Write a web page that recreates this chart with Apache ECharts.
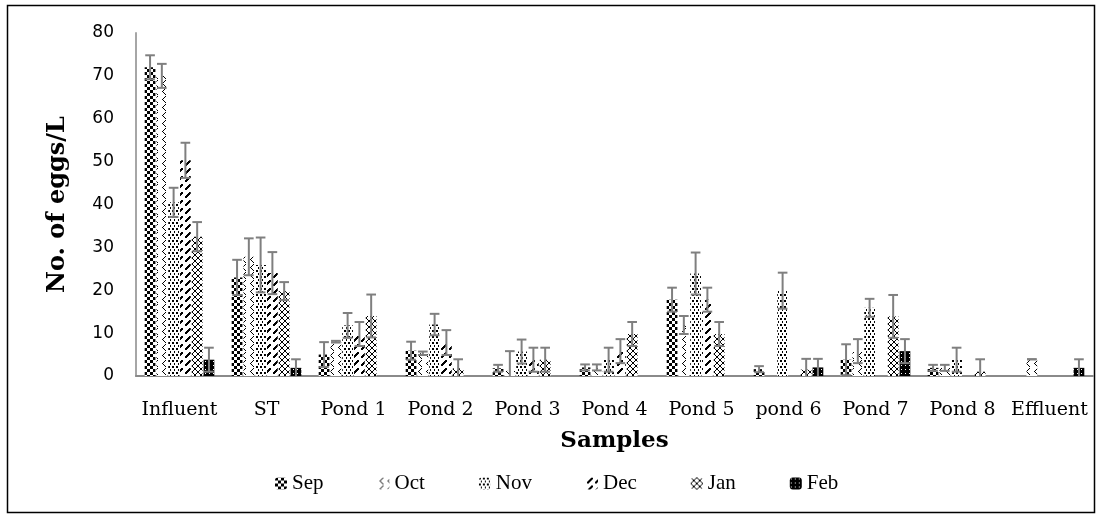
<!DOCTYPE html>
<html>
<head>
<meta charset="utf-8">
<script src="https://cdn.jsdelivr.net/npm/echarts@6/dist/echarts.min.js"></script>
<style>
  html, body { margin: 0; padding: 0; background: #fff; }
  #chart { width: 1101px; height: 519px; }
</style>
</head>
<body>
<div id="chart"></div>
<script>
// Helminth egg counts per sampling point and month (mean and standard deviation)
const categories = ['Influent', 'ST', 'Pond 1', 'Pond 2', 'Pond 3', 'Pond 4', 'Pond 5', 'pond 6', 'Pond 7', 'Pond 8', 'Effluent'];
const months = ['Sep', 'Oct', 'Nov', 'Dec', 'Jan', 'Feb'];
const yTicks = [0, 10, 20, 30, 40, 50, 60, 70, 80];

const sep    = [72.0, 23.0, 5.0, 5.9, 1.8, 2.0, 17.8, 1.6, 3.8, 1.9, 0];
const sepErr = [2.8, 4.1, 2.9, 2.1, 0.8, 0.7, 2.8, 0.7, 3.6, 0.7, 0];
const oct    = [70.0, 27.8, 8.0, 5.3, 1.2, 2.0, 11.9, 0, 5.8, 1.9, 3.9];
const octErr = [2.8, 4.3, 0.2, 0.4, 4.6, 0.7, 2.1, 0, 2.8, 0.7, 0];
const nov    = [40.5, 25.9, 11.8, 12.0, 5.7, 3.8, 23.9, 19.9, 15.9, 3.8, 0];
const novErr = [3.4, 6.4, 2.9, 2.5, 2.8, 2.8, 4.9, 4.2, 2.1, 2.8, 0];
const dec    = [50.3, 24.0, 9.8, 7.8, 3.8, 5.8, 17.8, 0, 0, 0, 0];
const decErr = [4.1, 4.9, 2.8, 2.9, 2.8, 2.8, 2.8, 0, 0, 0, 0];
const jan    = [32.5, 19.8, 14.0, 1.8, 3.8, 9.8, 9.8, 1.5, 13.9, 1.0, 0];
const janErr = [3.4, 2.1, 5.0, 2.1, 2.8, 2.8, 2.8, 2.5, 5.0, 2.9, 0];
const feb    = [3.8, 1.9, 0, 0, 0, 0, 0, 2.0, 5.8, 0, 1.9];
const febErr = [2.8, 2.0, 0, 0, 0, 0, 0, 2.0, 2.8, 0, 2.0];

const values = [sep, oct, nov, dec, jan, feb];
const errors = [sepErr, octErr, novErr, decErr, janErr, febErr];

// Monochrome fill patterns, one tile per month ('#' = black pixel)
function tile(rows) {
  const c = document.createElement('canvas');
  c.width = rows[0].length;
  c.height = rows.length;
  const ctx = c.getContext('2d');
  ctx.fillStyle = '#ffffff';
  ctx.fillRect(0, 0, c.width, c.height);
  ctx.fillStyle = '#000000';
  rows.forEach((r, y) => {
    for (let x = 0; x < r.length; x++) if (r[x] === '#') ctx.fillRect(x, y, 1, 1);
  });
  return { image: c, repeat: 'repeat' };
}

const patterns = [
  tile(['###...', '###...', '###...', '...###', '...###', '...###']),
  tile(['.....#..', '....#...', '...#....', '..#.....', '...#....', '....#...', '.....#..', '........']),
  tile(['##..', '##..', '....', '..#.', '..#.', '....']),
  tile(['.....##.', '....###.', '...###..', '..###...', '.###....', '.##.....', '........', '........']),
  tile(['#....#', '.#..#.', '..##..', '..##..', '.#..#.', '#....#']),
  tile(['####', '#.##', '####', '####'])
];

const CAT_GAP = 0.2, BAR_GAP = 0.1, N = months.length;

// Error bar for one bar of the group, placed with the same layout rules as the bars
function renderErr(params, api) {
  const ci = api.value(0), si = api.value(1), v = api.value(2), e = api.value(3);
  const band = api.size([1, 0])[0];
  const bw = band * (1 - CAT_GAP) / (N + (N - 1) * BAR_GAP);
  const center = api.coord([ci, 0])[0];
  const x = center - band * (1 - CAT_GAP) / 2 + bw / 2 + si * bw * (1 + BAR_GAP);
  const lo = Math.max(v - e, 0);
  const yTop = api.coord([ci, v + e])[1];
  const yBot = api.coord([ci, lo])[1];
  const half = bw * 0.45;
  const style = { stroke: '#7f7f7f', lineWidth: 2 };
  const children = [
    { type: 'line', shape: { x1: x, y1: yTop, x2: x, y2: yBot }, style },
    { type: 'line', shape: { x1: x - half, y1: yTop, x2: x + half, y2: yTop }, style }
  ];
  if (lo > 0) children.push({ type: 'line', shape: { x1: x - half, y1: yBot, x2: x + half, y2: yBot }, style });
  return { type: 'group', children };
}

const errData = [];
values.forEach((arr, si) => {
  arr.forEach((v, ci) => {
    if (v > 0 || errors[si][ci] > 0) errData.push([ci, si, v, errors[si][ci]]);
  });
});

const barSeries = months.map((m, i) => ({
  name: m,
  type: 'bar',
  data: values[i],
  barGap: (BAR_GAP * 100) + '%',
  barCategoryGap: (CAT_GAP * 100) + '%',
  itemStyle: { color: patterns[i] },
  emphasis: { disabled: true },
  z: 2
}));

const chart = echarts.init(document.getElementById('chart'), null, { renderer: 'canvas' });
chart.setOption({
  animation: false,
  backgroundColor: '#ffffff',
  graphic: [{
    type: 'rect',
    shape: { x: 7.5, y: 5.5, width: 1087, height: 507 },
    style: { fill: 'none', stroke: '#000000', lineWidth: 1.5 },
    z: 0
  }],
  grid: { left: 136, right: 8, top: 33, bottom: 143 },
  legend: {
    data: months,
    left: 270,
    top: 468,
    itemWidth: 12,
    itemHeight: 12,
    itemGap: 54,
    textStyle: { fontFamily: 'Liberation Serif', fontSize: 21, color: '#000', width: 40 }
  },
  xAxis: {
    type: 'category',
    data: categories,
    name: 'Samples',
    nameLocation: 'middle',
    nameGap: 54,
    nameTextStyle: { fontFamily: 'DejaVu Serif', fontWeight: 'bold', fontSize: 23, color: '#000' },
    axisLine: { lineStyle: { color: '#8a8a8a', width: 2 } },
    axisTick: { show: false },
    axisLabel: { fontFamily: 'DejaVu Serif', fontSize: 19, color: '#000', margin: 25, interval: 0 }
  },
  yAxis: {
    type: 'value',
    min: yTicks[0],
    max: yTicks[yTicks.length - 1],
    interval: 10,
    name: 'No. of eggs/L',
    nameLocation: 'middle',
    nameGap: 66,
    nameTextStyle: { fontFamily: 'DejaVu Serif', fontWeight: 'bold', fontSize: 24, color: '#000' },
    axisLine: { show: true, lineStyle: { color: '#a6a6a6', width: 2 } },
    axisTick: { show: false },
    splitLine: { show: false },
    axisLabel: { fontFamily: 'DejaVu Sans', fontSize: 17, color: '#000', margin: 22 }
  },
  series: barSeries.concat([{
    name: 'error',
    type: 'custom',
    renderItem: renderErr,
    data: errData,
    encode: { x: 0, y: 2 },
    z: 5,
    silent: true
  }])
});
</script>
</body>
</html>
